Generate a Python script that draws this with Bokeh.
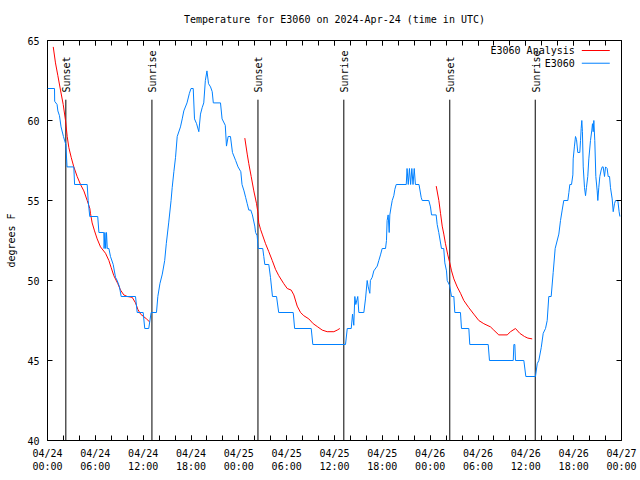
from math import pi
from bokeh.plotting import figure
from bokeh.models import Range1d, LinearAxis, FixedTicker, Label, Arrow, CustomLabelingPolicy
from bokeh.embed import file_html
from bokeh.resources import INLINE
from bokeh.core.properties import value

FONT = "DejaVu Sans Mono"
TITLE = "Temperature for E3060 on 2024-Apr-24 (time in UTC)"

# ---- data (hours since 2024-04-24 00:00 UTC, degrees F) ----
obs_hours = [
    0.0, 0.88, 0.9, 1.2, 1.3, 1.5, 1.7, 2.0, 2.3, 2.45, 3.3, 3.4, 4.98, 5.1, 5.3, 6.3, 6.45, 7.06,
    7.1, 7.2, 7.3, 7.4, 7.5, 7.7, 7.9, 8.24, 8.53, 8.74, 9.03, 9.24, 11.04, 11.25, 12.0, 12.2, 12.7,
    13.0, 13.67, 13.84, 14.1, 14.4, 14.7, 14.9, 15.2, 15.5, 15.64, 15.85, 16.06, 16.27, 16.68, 16.9,
    17.1, 17.5, 17.8, 18.0, 18.28, 18.44, 18.7, 18.98, 19.19, 19.4, 19.6, 19.8, 20.0, 20.2, 20.45,
    20.66, 20.8, 21.7, 21.9, 22.3, 22.45, 22.66, 22.95, 23.2, 23.6, 23.9, 24.25, 24.4, 24.65, 24.85,
    25.05, 25.25, 25.5, 25.7, 26.0, 26.1, 26.3, 26.38, 26.43, 27.0, 27.13, 27.26, 27.76, 27.97, 28.22,
    28.73, 29.0, 30.82, 31.0, 33.08, 33.28, 37.38, 37.6, 38.1, 38.26, 38.42, 38.55, 38.67, 38.92,
    39.05, 39.68, 39.9, 40.1, 40.23, 40.43, 40.5, 40.73, 40.93, 41.36, 41.56, 41.77, 41.98, 42.4,
    42.52, 42.6, 42.73, 42.86, 42.94, 43.1, 43.24, 43.44, 43.57, 43.74, 45.0, 45.1, 45.25, 45.4,
    45.55, 45.7, 45.85, 46.0, 46.15, 46.6, 46.87, 47.0, 47.83, 48.04, 48.17, 48.75, 48.88, 49.08,
    49.42, 49.7, 49.84, 50.05, 50.14, 50.43, 50.68, 50.97, 51.09, 51.8, 51.93, 52.85, 52.97, 55.28,
    55.44, 58.42, 58.5, 58.62, 58.7, 59.75, 60.0, 61.21, 61.43, 61.63, 61.93, 62.18, 62.47, 62.68,
    62.88, 63.18, 63.43, 63.68, 64.14, 64.35, 64.56, 64.76, 65.27, 65.4, 65.52, 65.73, 65.9, 65.94,
    66.1, 66.23, 66.36, 66.52, 66.77, 66.86, 66.94, 67.02, 67.1, 67.2, 67.36, 67.49, 67.6, 67.77,
    67.9, 68.11, 68.28, 68.36, 68.45, 68.53, 68.65, 68.78, 68.95, 69.03, 69.15, 69.28, 69.45, 69.58,
    69.7, 69.87, 70.0, 70.2, 70.33, 70.5, 70.62, 70.83, 70.96, 71.12, 71.25, 71.54, 71.7, 71.8,
]
obs_temp = [
    62.0, 62.0, 61.2, 61.0, 60.6, 60.3, 59.6, 59.0, 58.5, 57.1, 57.1, 56.0, 56.0, 55.0, 54.0, 54.0, 53.0, 53.0,
    52.0, 53.0, 52.0, 53.0, 52.0, 52.0, 51.5, 51.0, 50.2, 50.0, 49.6, 49.0, 49.0, 48.0, 48.0, 47.0, 47.0,
    48.0, 48.0, 49.0, 49.8, 50.4, 51.25, 52.3, 53.6, 55.0, 55.8, 56.8, 57.7, 59.0, 59.6, 60.1,
    60.6, 61.1, 61.7, 62.0, 62.0, 60.1, 59.8, 59.3, 60.4, 60.8, 61.1, 62.5, 63.1, 62.3, 62.1,
    61.8, 61.1, 61.1, 60.1, 59.7, 58.4, 59.0, 59.0, 58.0, 57.5, 57.1, 56.8, 56.0, 55.6, 55.2,
    54.8, 54.4, 54.4, 54.1, 53.4, 53.0, 52.8, 52.3, 52.0, 52.0, 51.5, 51.0, 51.0, 50.2, 49.0,
    49.0, 48.0, 48.0, 47.0, 47.0, 46.0, 46.0, 47.0, 47.0, 47.9, 47.2, 49.0, 48.5, 49.0,
    48.0, 48.0, 48.9, 50.0, 49.6, 49.2, 50.0, 50.2, 50.6, 50.9, 51.25, 51.6, 52.0, 52.0,
    52.5, 53.75, 54.1, 53.0, 54.1, 54.6, 55.0, 55.3, 55.7, 56.0, 56.0, 57.0, 56.0, 57.0,
    56.0, 57.0, 56.0, 57.0, 56.0, 56.0, 55.2, 55.0, 55.0, 54.6, 54.1, 54.1, 53.5, 53.0,
    52.0, 52.0, 51.1, 50.6, 50.0, 49.7, 49.0, 49.0, 48.0, 48.0, 47.0, 47.0, 46.0, 46.0,
    45.0, 45.0, 46.0, 46.0, 45.0, 45.0, 44.0, 44.0, 44.8, 45.0, 45.8, 46.7, 47.0, 47.5,
    49.0, 49.0, 50.5, 52.0, 52.9, 53.75, 54.4, 55.0, 55.0, 55.5, 56.0, 56.0, 56.6, 57.6,
    58.4, 59.0, 58.8, 58.0, 58.0, 58.75, 59.5, 60.0, 59.3, 57.1, 55.8, 55.3, 55.8, 56.5,
    57.6, 58.75, 59.4, 59.8, 59.3, 60.0, 58.75, 56.5, 55.6, 55.0, 55.8, 56.5, 56.9, 57.1,
    57.1, 56.5, 57.1, 57.0, 56.5, 56.5, 55.8, 55.1, 54.3, 54.8, 55.0, 55.0, 54.3, 54.0,
]

fit1_hours = [0.72, 1.0, 1.3, 1.63, 1.97, 2.26, 2.47, 2.68, 2.97, 3.3, 3.72, 4.14, 4.56, 4.98, 5.31,
              5.39, 5.6, 5.9, 6.23, 6.65, 7.28, 7.7, 7.99, 8.32, 8.82, 9.16, 9.57, 10.0, 10.62,
              11.04, 11.33, 11.67, 12.42, 12.83]
fit1_temp = [64.6, 63.6, 62.8, 61.9, 61.0, 60.0, 59.0, 58.3, 57.7, 57.1, 56.5, 56.0, 55.6, 55.0, 54.5,
             54.2, 53.6, 53.1, 52.6, 52.1, 51.7, 51.25, 50.8, 50.3, 49.8, 49.4, 49.1, 49.0, 48.95,
             48.6, 48.2, 47.9, 47.6, 47.4]
fit2_hours = [24.75, 25.05, 25.25, 25.55, 25.88, 26.22, 26.38, 26.5, 26.72, 26.93, 27.35, 27.76, 28.19,
              28.6, 29.01, 29.64, 30.07, 30.57, 30.9, 31.32, 31.74, 32.15, 32.78, 33.33, 33.9, 34.46,
              35.08, 35.92, 36.34, 36.67]
fit2_temp = [58.9, 57.9, 57.3, 56.5, 55.6, 54.8, 54.3, 53.6, 53.2, 52.9, 52.3, 51.8, 51.25,
             50.7, 50.3, 49.8, 49.5, 49.4, 49.1, 48.4, 48.0, 47.8, 47.6, 47.3, 47.1, 46.9,
             46.8, 46.8, 46.9, 47.0]
fit3_hours = [48.76, 49.09, 49.3, 49.51, 49.71, 49.92, 50.21, 50.46, 50.68, 50.97, 51.39, 51.81, 52.22,
              52.85, 53.47, 54.1, 54.73, 55.57, 55.98, 56.61, 57.66, 58.08, 58.7, 59.24, 59.83, 60.25, 60.8]
fit3_temp = [55.9, 55.0, 54.2, 53.4, 52.9, 52.3, 51.6, 51.1, 50.6, 50.1, 49.6, 49.2, 48.75,
             48.3, 47.9, 47.5, 47.3, 47.1, 46.9, 46.6, 46.6, 46.8, 47.0, 46.7, 46.5, 46.4, 46.35]

sunset_hours = [2.3, 26.4, 50.46]
sunrise_hours = [13.1, 37.17, 61.18]

tick_hours = [0, 6, 12, 18, 24, 30, 36, 42, 48, 54, 60, 66, 72]
tick_labels = ["04/24\n00:00", "04/24\n06:00", "04/24\n12:00", "04/24\n18:00",
               "04/25\n00:00", "04/25\n06:00", "04/25\n12:00", "04/25\n18:00",
               "04/26\n00:00", "04/26\n06:00", "04/26\n12:00", "04/26\n18:00",
               "04/27\n00:00"]
minor_hours = list(range(0, 73, 2))
y_ticks = [40, 45, 50, 55, 60, 65]

RED = "#ff0000"
BLUE = "#0080ff"

p = figure(width=640, height=480, output_backend="svg", toolbar_location=None,
           x_range=Range1d(0, 72), y_range=Range1d(40, 65),
           min_border_left=47, min_border_right=19, min_border_top=40, min_border_bottom=40)
p.background_fill_color = "white"
p.border_fill_color = "white"
p.outline_line_color = "black"
p.outline_line_width = 1
p.outline_line_alpha = 1.0
p.xgrid.visible = False
p.ygrid.visible = False

p.title.text = TITLE
p.title.align = "center"
p.title.text_font = FONT
p.title.text_font_size = "10px"
p.title.text_font_style = "normal"
p.title.text_color = "black"


def style_axis(ax, show_labels):
    ax.axis_line_color = None
    ax.major_tick_in = 5
    ax.major_tick_out = 0
    ax.minor_tick_in = 5
    ax.minor_tick_out = 0
    ax.major_tick_line_color = "black"
    ax.minor_tick_line_color = "black"
    ax.major_label_text_font = FONT
    ax.major_label_text_font_size = "10px"
    ax.major_label_text_color = "black"
    if not show_labels:
        ax.major_label_standoff = 0
        ax.major_label_policy = CustomLabelingPolicy(code="for (const i of []) yield i")


xt = FixedTicker(ticks=tick_hours, minor_ticks=minor_hours)
yt = FixedTicker(ticks=y_ticks, minor_ticks=[])

xa = p.xaxis[0]
xa.ticker = xt
xa.major_label_overrides = {h: lab for h, lab in zip(tick_hours, tick_labels)}
style_axis(xa, True)
xa.major_label_standoff = 7

ya = p.yaxis[0]
ya.ticker = yt
style_axis(ya, True)
ya.major_label_standoff = 8
ya.axis_label = "degrees F"
ya.axis_label_text_font = FONT
ya.axis_label_text_font_size = "10px"
ya.axis_label_text_font_style = "normal"
ya.axis_label_text_color = "black"
ya.axis_label_standoff = 7

top = LinearAxis(ticker=FixedTicker(ticks=tick_hours, minor_ticks=minor_hours))
style_axis(top, False)
p.add_layout(top, "above")
right = LinearAxis(ticker=FixedTicker(ticks=y_ticks, minor_ticks=[]))
style_axis(right, False)
p.add_layout(right, "right")

# sunset / sunrise markers
mark_hours = sunset_hours + sunrise_hours
mark_names = ["Sunset"] * len(sunset_hours) + ["Sunrise"] * len(sunrise_hours)
p.segment(x0=mark_hours, y0=[40] * len(mark_hours), x1=mark_hours, y1=[61.3] * len(mark_hours),
          line_color="black", line_width=1)
p.text(x=mark_hours, y=[61.75] * len(mark_hours), text=mark_names, angle=pi / 2,
       text_align="left", text_baseline="middle", x_offset=1,
       text_font=value(FONT), text_font_size="10px", text_color="black")

# series
for hx, ty in ((fit1_hours, fit1_temp), (fit2_hours, fit2_temp), (fit3_hours, fit3_temp)):
    p.line(hx, ty, line_color=RED, line_width=1)
p.line(obs_hours, obs_temp, line_color=BLUE, line_width=1)

# legend (gnuplot style: text right-aligned, sample line to the right)
legend_rows = [("E3060 Analysis", RED, 64.375), ("E3060", BLUE, 63.58)]
for name, col, yy in legend_rows:
    p.add_layout(Label(x=66.14, y=yy, text=name, text_align="right", text_baseline="middle",
                       text_font=FONT, text_font_size="10px", text_color="black"))
    p.add_layout(Arrow(x_start=67.02, y_start=yy, x_end=70.53, y_end=yy, start=None, end=None,
                       line_color=col, line_width=1))

open("out.html", "w").write(file_html(p, INLINE))
